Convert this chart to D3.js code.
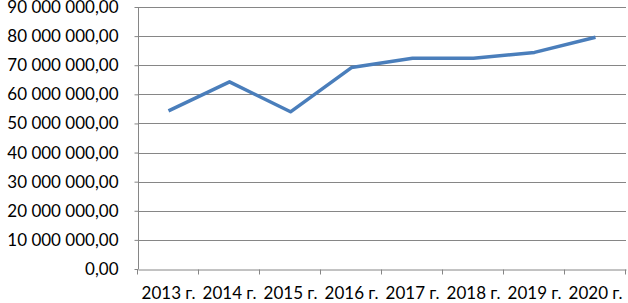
<!DOCTYPE html>
<html><head><meta charset="utf-8">
<script src="https://cdn.jsdelivr.net/npm/d3@7"></script>
<style>html,body{margin:0;padding:0;background:#fff;}svg{display:block;}</style>
</head><body>
<svg id="c" width="628" height="303"></svg>
<script>
const categories = ["2013 г.", "2014 г.", "2015 г.", "2016 г.", "2017 г.", "2018 г.", "2019 г.", "2020 г."];
const values = [54300000, 64300000, 54000000, 69200000, 72400000, 72400000, 74400000, 79600000];
const yTicks = [0, 10000000, 20000000, 30000000, 40000000, 50000000, 60000000, 70000000, 80000000, 90000000];

const svg = d3.select("#c");
const mLeft = 138, mRight = 626, mTop = 7, mBottom = 269;
const font = "Lato, 'Open Sans', sans-serif";
const x = d3.scaleBand().domain(categories).range([mLeft, mRight]);
const y = d3.scaleLinear().domain([0, 90000000]).range([mBottom, mTop]);
const fmt = d3.formatLocale({decimal: ",", thousands: " ", grouping: [3], currency: ["", ""]}).format(",.2f");

// gridlines
svg.append("g").selectAll("line").data(yTicks.filter(d => d > 0)).join("line")
  .attr("x1", mLeft).attr("x2", mRight)
  .attr("y1", d => Math.round(y(d)) + 0.5).attr("y2", d => Math.round(y(d)) + 0.5)
  .attr("stroke", "#868686").attr("stroke-width", 1);

// y axis
const ya = svg.append("g").attr("transform", `translate(${mLeft + 0.5},0)`)
  .call(d3.axisLeft(y).tickValues(yTicks).tickFormat(fmt).tickSize(4).tickPadding(16));
ya.select(".domain").attr("stroke", "#868686").attr("d", `M0,${mTop}V${mBottom}`);
ya.selectAll(".tick line").attr("stroke", "#868686");
ya.selectAll(".tick text").attr("fill", "#000").style("font-family", font).style("font-size", "17px");

// x axis
const xa = svg.append("g").attr("transform", `translate(0,${mBottom + 0.5})`)
  .call(d3.axisBottom(x).tickSize(0).tickPadding(17));
xa.select(".domain").attr("stroke", "#868686");
xa.selectAll(".tick text").attr("fill", "#000").style("font-family", font).style("font-size", "17px");
// boundary tick marks
xa.append("g").selectAll("line").data(categories.concat(["__end"])).join("line")
  .attr("x1", (d, i) => Math.round(i < categories.length ? x(d) : x.range()[1]) - 0.5)
  .attr("x2", (d, i) => Math.round(i < categories.length ? x(d) : x.range()[1]) - 0.5)
  .attr("y1", 0).attr("y2", 5).attr("stroke", "#868686");

// line
const line = d3.line().x((d, i) => x(categories[i]) + x.bandwidth() / 2).y(d => y(d));
svg.append("path").datum(values).attr("d", line)
  .attr("fill", "none").attr("stroke", "#4a7ebb").attr("stroke-width", 3.5)
  .attr("stroke-linejoin", "round").attr("stroke-linecap", "butt");
</script>
</body></html>
